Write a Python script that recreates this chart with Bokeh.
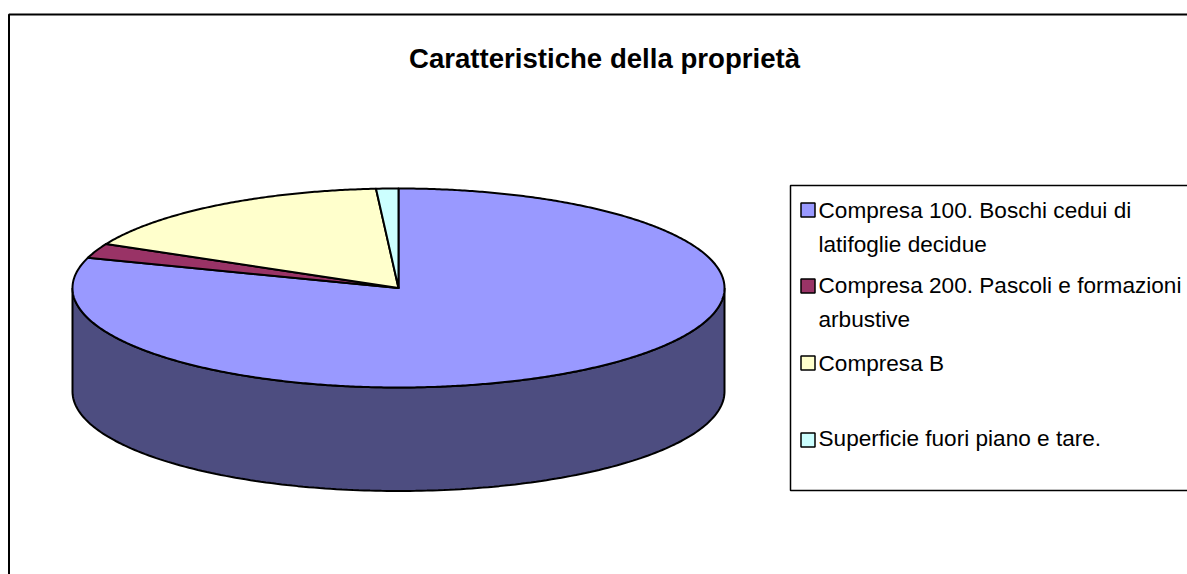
import numpy as np
from bokeh.plotting import figure
from bokeh.models import Range1d
from bokeh.embed import file_html
from bokeh.resources import INLINE
from bokeh.core.properties import value

title = "Caratteristiche della proprietà"
categories = ["Compresa 100. Boschi cedui di\nlatifoglie decidue",
              "Compresa 200. Pascoli e formazioni\narbustive",
              "Compresa B",
              "Superficie fuori piano e tare."]
shares = [79.9, 2.4, 16.6, 1.1]
colors = ["#9999FF", "#993366", "#FFFFCC", "#CCFFFF"]
side_color = "#4D4D80"

W, H = 1187, 574
p = figure(width=W, height=H, output_backend="svg", toolbar_location=None,
           x_range=Range1d(0, W), y_range=Range1d(H, 0),
           min_border=0, outline_line_color=None, background_fill_color="white")
p.axis.visible = False
p.grid.visible = False

# chart frame
p.line([8.5, 8.5, W], [H, 14, 14], line_color="black", line_width=2)

cx, cy, rx, ry, depth = 398, 287.5, 326, 99.5, 103.5
lw = 2

# side wall (front half of the disc)
t = np.radians(np.linspace(90, 270, 181))
xs = cx + rx * np.sin(t)
ys = cy - ry * np.cos(t)
p.patch(np.r_[xs, xs[::-1]], np.r_[ys + depth, ys[::-1]], fill_color=side_color,
        line_color="black", line_width=lw)

# top face slices, clockwise from twelve o'clock
start = 0.0
for s, c in zip(shares, colors):
    end = start + s * 3.6
    a = np.radians(np.linspace(start, end, max(int(s * 8), 3)))
    px = np.r_[cx, cx + rx * np.sin(a)]
    py = np.r_[cy, cy - ry * np.cos(a)]
    p.patch(px, py, fill_color=c, line_color="black", line_width=lw, line_join="round")
    start = end

# title
p.text([604], [58], text=[title], text_font=value("Liberation Sans"), text_font_style="bold",
       text_font_size="27.6px", text_align="center", text_baseline="middle", text_color="black")

# legend box
lx, ltop, lbot = 790, 185, 490
p.line([W, lx, lx, W], [ltop, ltop, lbot, lbot], line_color="black", line_width=1.5)
marker_y = [209.5, 285.5, 362.5, 439.5]
text_y = [210, 285, 363, 438]
line_gap = 34
for label, c, my, ty in zip(categories, colors, marker_y, text_y):
    p.rect([807.5], [my], width=14, height=14, fill_color=c, line_color="black", line_width=1.5)
    for i, line in enumerate(label.split("\n")):
        p.text([818], [ty + i * line_gap], text=[line], text_font=value("Liberation Sans"),
               text_font_size="22.6px", text_align="left", text_baseline="middle", text_color="black")

open("out.html", "w").write(file_html(p, INLINE))
